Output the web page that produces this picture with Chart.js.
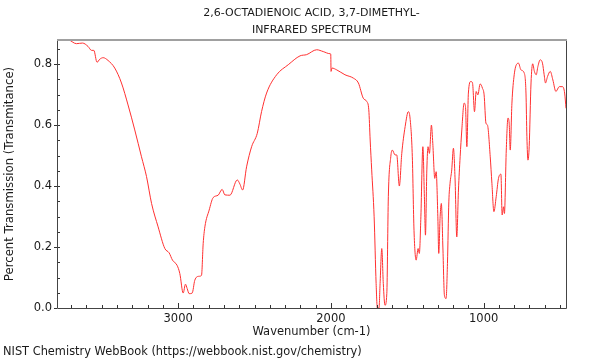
<!DOCTYPE html>
<html><head><meta charset="utf-8">
<script src="https://cdn.jsdelivr.net/npm/chart.js@4/dist/chart.umd.min.js"></script>
<style>html,body{margin:0;padding:0;background:#fff;}canvas{display:block;}</style>
</head><body>
<canvas id="c" width="600" height="360"></canvas>
<script>
const titleLines = ["2,6-OCTADIENOIC ACID, 3,7-DIMETHYL-", "INFRARED SPECTRUM"];
const xAxisTitle = "Wavenumber (cm-1)";
const yAxisTitle = "Percent Transmission (Transmitance)";
const footerText = "NIST Chemistry WebBook (https://webbook.nist.gov/chemistry)";
const xTickValues = [1000, 2000, 3000];
const yTickValues = [0, 0.2, 0.4, 0.6, 0.8];

const wavenumbers = [3793,3721,3666,3626,3590,3567,3552,3531,3513,3491,3459,3415,3371,3328,3284,3240,3207,3174,3131,3087,3059,3037,3007,2989,2967,2952,2941,2928,2908,2891,2864,2847,2836,2825,2797,2771,2738,2712,2694,2661,2613,2596,2578,2552,2519,2482,2454,2421,2355,2279,2202,2159,2093,2050,2006,2001,1999,1993,1962,1908,1853,1820,1788,1765,1752,1743,1733,1717,1704,1696,1685,1678,1667,1657,1646,1634,1624,1608,1598,1580,1569,1552,1536,1514,1493,1482,1467,1456,1442,1429,1421,1411,1398,1388,1381,1372,1364,1355,1342,1333,1320,1311,1300,1294,1285,1277,1267,1257,1246,1237,1228,1220,1209,1198,1187,1176,1165,1154,1143,1128,1119,1110,1100,1084,1073,1060,1049,1038,1023,1008,997,985,975,957,946,933,918,903,887,879,870,864,852,841,833,826,815,800,782,772,756,734,723,717,710,702,690,679,668,656,645,630,615,604,595,582,564,547,527,505,483,470,461];
const transmittance = [0.877,0.880,0.867,0.869,0.858,0.845,0.845,0.806,0.816,0.821,0.812,0.787,0.738,0.666,0.584,0.496,0.431,0.343,0.266,0.195,0.181,0.157,0.140,0.113,0.049,0.078,0.064,0.047,0.049,0.091,0.104,0.107,0.212,0.266,0.321,0.362,0.370,0.389,0.371,0.370,0.420,0.407,0.387,0.463,0.529,0.573,0.644,0.705,0.765,0.798,0.827,0.831,0.847,0.841,0.834,0.833,0.776,0.787,0.781,0.765,0.754,0.738,0.688,0.677,0.650,0.551,0.453,0.299,0.080,0.0,0.0,0.080,0.195,0.080,0.009,0.047,0.365,0.496,0.518,0.502,0.502,0.400,0.507,0.595,0.644,0.623,0.496,0.255,0.157,0.195,0.179,0.299,0.529,0.365,0.239,0.453,0.529,0.507,0.600,0.540,0.425,0.447,0.299,0.179,0.299,0.343,0.200,0.042,0.031,0.146,0.348,0.409,0.453,0.524,0.420,0.233,0.387,0.496,0.584,0.672,0.661,0.529,0.705,0.743,0.738,0.644,0.710,0.699,0.735,0.721,0.699,0.606,0.600,0.496,0.409,0.316,0.365,0.425,0.439,0.305,0.332,0.310,0.518,0.623,0.606,0.518,0.672,0.765,0.801,0.803,0.781,0.770,0.705,0.562,0.485,0.529,0.738,0.801,0.776,0.765,0.792,0.814,0.803,0.765,0.738,0.759,0.776,0.748,0.710,0.726,0.726,0.705,0.655];

const FONT = '"DejaVu Sans", sans-serif';
const TEXT = '#1a1a1a';

const decor = {
  id: 'decor',
  afterDraw(chart) {
    const ctx = chart.ctx, a = chart.chartArea;
    const xs = chart.scales.x, ys = chart.scales.y;
    ctx.save();
    ctx.strokeStyle = '#333';
    ctx.lineWidth = 1;
    ctx.beginPath();
    for (let w = 500; w <= 3700; w += 100) {
      const px = Math.round(xs.getPixelForValue(w)) + 0.5;
      const len = (w % 1000 === 0) ? 5 : 3;
      ctx.moveTo(px, a.bottom); ctx.lineTo(px, a.bottom - len);
    }
    for (let k = 1; k <= 17; k++) {
      const v = k * 0.05;
      const py = Math.round(ys.getPixelForValue(v)) + 0.5;
      const major = (k % 4 === 0);
      ctx.moveTo(a.left - (major ? 3 : 0), py); ctx.lineTo(a.left + 3, py);
    }
    ctx.moveTo(a.left - 3, Math.round(a.bottom) + 0.5); ctx.lineTo(a.left, Math.round(a.bottom) + 0.5);
    ctx.stroke();
    ctx.strokeStyle = '#444';
    ctx.beginPath();
    ctx.moveTo(Math.round(a.left) + 0.5, a.top); ctx.lineTo(Math.round(a.left) + 0.5, Math.round(a.bottom) + 0.5);
    ctx.lineTo(Math.round(a.right) + 0.5, Math.round(a.bottom) + 0.5);
    ctx.lineTo(Math.round(a.right) + 0.5, a.top);
    ctx.stroke();
    ctx.strokeStyle = '#a0a0a0';
    ctx.lineWidth = 2;
    ctx.beginPath();
    ctx.moveTo(a.left, Math.round(a.top)); ctx.lineTo(a.right + 1, Math.round(a.top));
    ctx.stroke();
    ctx.fillStyle = TEXT;
    ctx.textAlign = 'center';
    ctx.textBaseline = 'middle';
    const cx = (a.left + a.right) / 2;
    ctx.font = '11px ' + FONT;
    ctx.fillText(titleLines[0], cx, 13);
    ctx.fillText(titleLines[1], cx, 30);
    ctx.font = '11.5px ' + FONT;
    ctx.fillText(xAxisTitle, cx, 332);
    ctx.save();
    ctx.translate(10, (a.top + a.bottom) / 2);
    ctx.rotate(-Math.PI / 2);
    ctx.font = '11.7px ' + FONT;
    ctx.fillText(yAxisTitle, 0, 0);
    ctx.restore();
    ctx.textAlign = 'left';
    ctx.font = '11.4px ' + FONT;
    ctx.fillText(footerText, 3, 352);
    ctx.restore();
  }
};

new Chart(document.getElementById('c'), {
  type: 'line',
  data: {
    datasets: [{
      data: wavenumbers.map((w, i) => ({ x: w, y: transmittance[i] })),
      borderColor: '#ff3030',
      borderWidth: 1,
      pointRadius: 0,
      fill: false,
      cubicInterpolationMode: 'monotone'
    }]
  },
  options: {
    responsive: false,
    animation: false,
    devicePixelRatio: 1,
    layout: { padding: { top: 40, right: 34, left: 0, bottom: 0 } },
    plugins: { legend: { display: false }, tooltip: { enabled: false }, title: { display: false } },
    scales: {
      x: {
        type: 'linear', reverse: true, min: 461, max: 3793,
        afterBuildTicks: s => { s.ticks = xTickValues.map(v => ({ value: v })); },
        afterFit: s => { s.height = 52; },
        grid: { display: false, drawTicks: false },
        border: { display: false },
        ticks: { padding: 4, color: TEXT, font: { family: FONT, size: 11.5 }, maxRotation: 0, callback: v => String(v) }
      },
      y: {
        type: 'linear', min: 0, max: 0.879,
        afterBuildTicks: s => { s.ticks = yTickValues.map(v => ({ value: v })); },
        afterFit: s => { s.width = 57; },
        grid: { display: false, drawTicks: false },
        border: { display: false },
        ticks: { padding: 5, color: TEXT, font: { family: FONT, size: 11.5 }, callback: v => Number(v).toFixed(1) }
      }
    }
  },
  plugins: [decor]
});
</script>
</body></html>
